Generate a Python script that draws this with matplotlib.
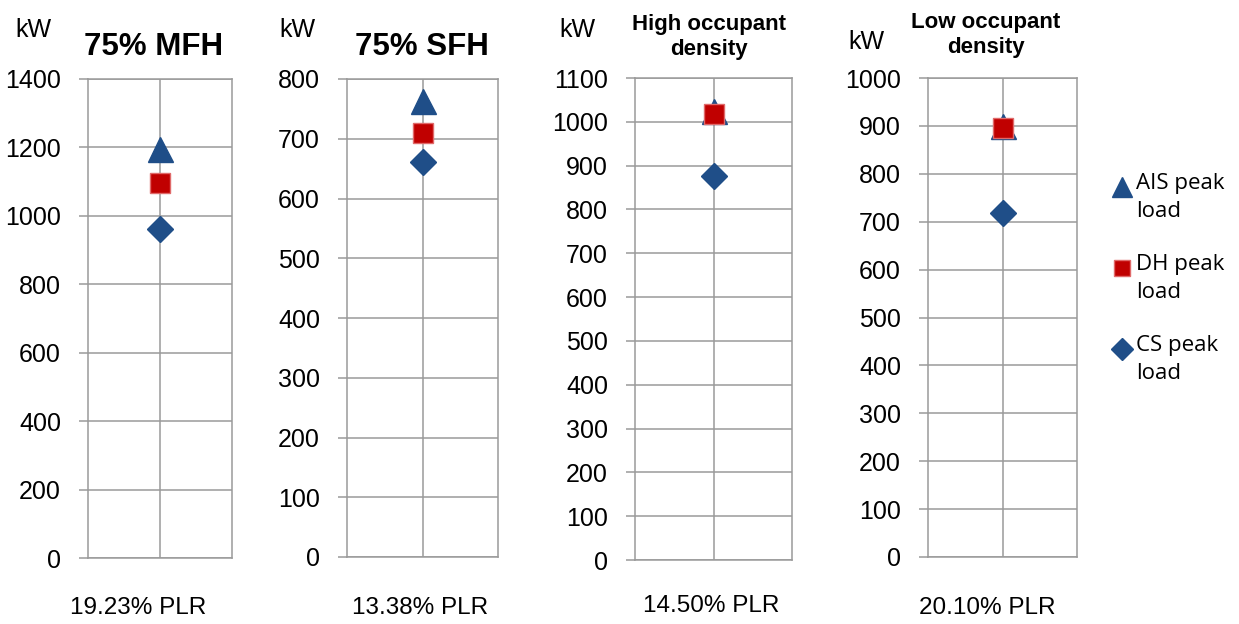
import matplotlib
matplotlib.use("Agg")
import matplotlib.pyplot as plt
from matplotlib.lines import Line2D
import numpy as np

# ---- data ----
panel_titles = ["75% MFH", "75% SFH", "High occupant\ndensity", "Low occupant\ndensity"]
plr_labels = ["19.23% PLR", "13.38% PLR", "14.50% PLR", "20.10% PLR"]
y_max = [1400, 800, 1100, 1000]
y_step = [200, 100, 100, 100]
ais_peak = [1195, 763, 1025, 900]
dh_peak = [1096, 709, 1018, 895]
cs_peak = [962, 661, 876, 718]
series_labels = ["AIS peak\nload", "DH peak\nload", "CS peak\nload"]

W, H = 1239, 624
fig = plt.figure(figsize=(W / 100, H / 100), dpi=100)
fig.patch.set_facecolor("white")

NARROW = ["Liberation Sans", "DejaVu Sans"]
LEG = ["Open Sans", "DejaVu Sans"]
GRID = "#9a9a9a"
BLUE = "#1F4E88"
RED = "#C00000"


def fx(x):
    return x / W


def fy(y):
    return 1 - y / H


# axes frames in pixel coordinates: left, right, top, bottom
frames = [(88, 232, 79, 558), (347, 498, 79, 557), (635, 792, 78, 560), (928, 1077, 78, 557)]
title_pos = [(154, 47, 22.5), (422, 47, 22.5), (709, 37, 16), (986, 35, 16)]
kw_pos = [(33, 30), (297, 30), (577, 30), (866, 42)]
plr_pos = [(138, 608), (420, 608), (711, 606), (987, 608)]

for i in range(4):
    l, r, t, b = frames[i]
    ax = fig.add_axes([fx(l), fy(b), fx(r - l), (b - t) / H])
    x = [0]
    ax.plot(x, [ais_peak[i]], linestyle="none", marker="^", markersize=18,
            color=BLUE, markeredgecolor=BLUE, zorder=3)
    ax.plot(x, [dh_peak[i]], linestyle="none", marker="s", markersize=14,
            color=RED, markeredgecolor="#E06A6A", markeredgewidth=1.0, zorder=4)
    ax.plot(x, [cs_peak[i]], linestyle="none", marker="D", markersize=13.5,
            color=BLUE, markeredgecolor=BLUE, zorder=3)
    ax.set_xlim(-1, 1)
    ax.set_ylim(0, y_max[i])
    ax.set_yticks(np.arange(0, y_max[i] + 1, y_step[i]))
    ax.set_xticks([0])
    ax.set_xticklabels([])
    ax.tick_params(axis="x", length=0)
    ax.tick_params(axis="y", direction="out", length=6.5, width=1.1, color=GRID,
                   pad=13, labelsize=18)
    for lab in ax.get_yticklabels():
        lab.set_family(NARROW)
    ax.grid(True, color=GRID, linewidth=1.1, zorder=0)
    ax.set_axisbelow(True)
    for s in ax.spines.values():
        s.set_color(GRID)
        s.set_linewidth(1.1)

    tx, ty, ts = title_pos[i]
    fig.text(fx(tx), fy(ty), panel_titles[i], ha="center", va="center",
             fontsize=ts, fontweight="bold", family=NARROW, linespacing=1.3)
    kx, ky = kw_pos[i]
    fig.text(fx(kx), fy(ky), "kW", ha="center", va="center", fontsize=18, family=NARROW)
    px, py = plr_pos[i]
    fig.text(fx(px), fy(py), plr_labels[i], ha="center", va="center", fontsize=17.5, family=NARROW)

# ---- legend (manual, first line aligned with marker) ----
leg_markers = [("^", BLUE, BLUE, 15), ("s", RED, "#E06A6A", 12), ("D", BLUE, BLUE, 11.5)]
leg_y = [187, 268, 349]
for (m, fc, ec, ms), ly, lab in zip(leg_markers, leg_y, series_labels):
    fig.add_artist(Line2D([fx(1122)], [fy(ly)], marker=m, markersize=ms, color=fc,
                          markeredgecolor=ec, linestyle="none", transform=fig.transFigure))
    fig.text(fx(1136), fy(ly - 14), lab, ha="left", va="top", fontsize=16,
             family=LEG, linespacing=1.45)

fig.savefig("out.png", dpi=100, facecolor="white")
